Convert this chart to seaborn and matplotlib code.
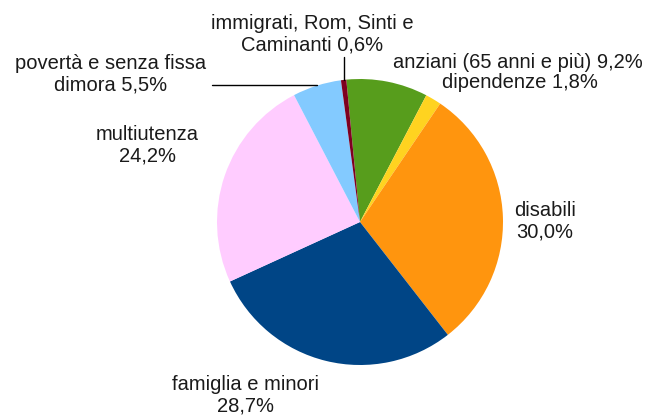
import numpy as np
import matplotlib
matplotlib.use("Agg")
import matplotlib.pyplot as plt
import seaborn as sns

categories = [
    "anziani (65 anni e più)",
    "dipendenze",
    "disabili",
    "famiglia e minori",
    "multiutenza",
    "povertà e senza fissa dimora",
    "immigrati, Rom, Sinti e Caminanti",
]
shares = [9.2, 1.8, 30.0, 28.7, 24.2, 5.5, 0.6]
colors = ["#579d1c", "#ffd320", "#ff950e", "#004586", "#ffccff", "#83caff", "#7e0021"]
label_texts = [
    "anziani (65 anni e più) 9,2%",
    "dipendenze 1,8%",
    "disabili\n30,0%",
    "famiglia e minori\n28,7%",
    "multiutenza\n24,2%",
    "povertà e senza fissa\ndimora 5,5%",
    "immigrati, Rom, Sinti e\nCaminanti 0,6%",
]

sns.set_theme(style="white")
plt.rcParams["font.family"] = ["Liberation Sans", "DejaVu Sans"]

W, H = 649, 416
fig = plt.figure(figsize=(W / 100, H / 100), dpi=100)
ax = fig.add_axes([0, 0, 1, 1])

cx, cy, r = 360, H - 222, 143
start = 95.5
wedges, _ = ax.pie(shares, colors=colors, startangle=start, counterclock=False,
                   center=(cx, cy), radius=r, frame=True,
                   wedgeprops=dict(linewidth=0))
ax.set_xlim(0, W)
ax.set_ylim(0, H)
ax.set_aspect("equal")
ax.axis("off")

fs = 14.5
# label positions (pixel coordinates, top-left origin)
pos = [
    (518, 62),
    (520, 82),
    (545, 221),
    (246, 395),
    (147, 145),
    (111, 74),
    (312, 34),
]
for txt, (x, y) in zip(label_texts, pos):
    ax.text(x, H - y, txt, ha="center", va="center", fontsize=fs, color="#1a1a1a",
            linespacing=1.15)

# leader lines for the small slices
def mid_point(i):
    w = wedges[i]
    th = np.deg2rad((w.theta1 + w.theta2) / 2)
    return cx + r * np.cos(th), cy + r * np.sin(th)

px, py = mid_point(5)
ax.plot([212, px], [H - 85, H - 85], color="black", lw=1)
mx, my = mid_point(6)
ax.plot([mx, mx], [H - 57, my], color="black", lw=1)

fig.savefig("out.png", dpi=100)
